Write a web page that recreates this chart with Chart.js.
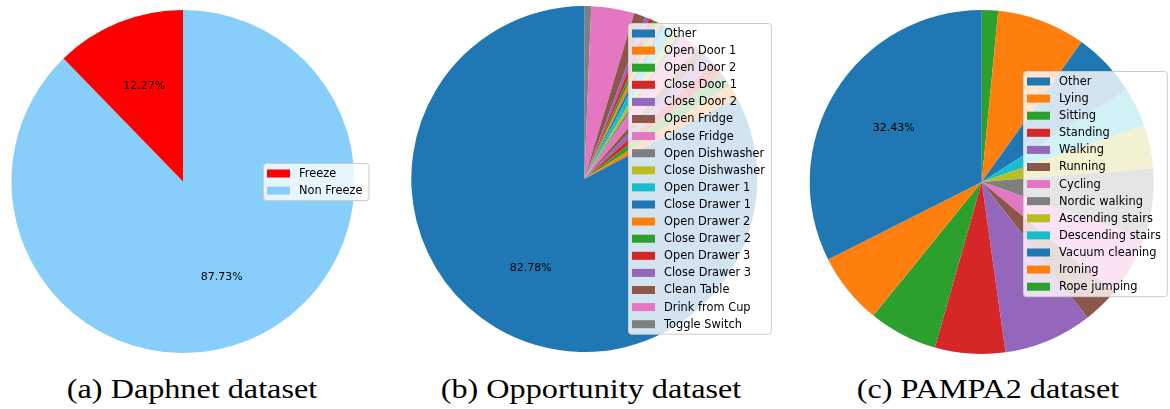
<!DOCTYPE html>
<html>
<head>
<meta charset="utf-8">
<script src="https://cdn.jsdelivr.net/npm/chart.js@4.4.1/dist/chart.umd.min.js"></script>
<style>
  html, body { margin: 0; padding: 0; background: #fff; }
  #page { position: relative; width: 1170px; height: 409px; overflow: hidden; }
  .panel { position: absolute; top: 0; width: 390px; height: 360px; }
  .caption {
    position: absolute; top: 375px; line-height: 28px;
    font-family: "Liberation Serif", serif; font-size: 28px; color: #000;
    white-space: nowrap; transform: translateX(-50%) scaleX(1.15);
  }
</style>
</head>
<body>
<div id="page">
  <div class="panel" style="left:0px"><canvas id="daphnet" width="390" height="360"></canvas></div>
  <div class="panel" style="left:390px"><canvas id="opportunity" width="390" height="360"></canvas></div>
  <div class="panel" style="left:780px"><canvas id="pampa" width="390" height="360"></canvas></div>
  <div class="caption" style="left:192px">(a) Daphnet dataset</div>
  <div class="caption" style="left:591px">(b) Opportunity dataset</div>
  <div class="caption" style="left:988px">(c) PAMPA2 dataset</div>
</div>
<script>
// class shares in percent
const daphnetLabels = ['Freeze', 'Non Freeze']
const daphnetValues = [12.27, 87.73]
const daphnetColors = ['#ff0000', '#87cefa']

const opportunityLabels = [
    'Other', 'Open Door 1', 'Open Door 2', 'Close Door 1', 'Close Door 2',
    'Open Fridge', 'Close Fridge', 'Open Dishwasher', 'Close Dishwasher',
    'Open Drawer 1', 'Close Drawer 1', 'Open Drawer 2', 'Close Drawer 2',
    'Open Drawer 3', 'Close Drawer 3', 'Clean Table', 'Drink from Cup', 'Toggle Switch'
]
const opportunityValues = [
    82.78, 1.30, 1.35, 1.20, 1.05,
    1.00, 1.80, 0.42, 0.55,
    0.83, 0.40, 0.40, 0.40,
    0.42, 0.39, 1.05, 4.02, 0.64
]

const pampaLabels = [
    'Other', 'Lying', 'Sitting', 'Standing', 'Walking', 'Running', 'Cycling',
    'Nordic walking', 'Ascending stairs', 'Descending stairs', 'Vacuum cleaning',
    'Ironing', 'Rope jumping'
]
const pampaValues = [32.43, 6.72, 6.46, 6.60, 8.33, 3.43, 5.74, 6.56, 4.09, 3.66, 6.12, 8.33, 1.53]

const tab10 = ['#1f77b4', '#ff7f0e', '#2ca02c', '#d62728', '#9467bd',
               '#8c564b', '#e377c2', '#7f7f7f', '#bcbd22', '#17becf']
const cycle = n => Array.from({ length: n }, (_, i) => tab10[i % tab10.length])

const PANEL_W = 390
const PANEL_H = 360
const FONT = '"DejaVu Sans", sans-serif'

// put the pie centre at (cx, cy) inside the panel
function centerPadding(cx, cy) {
    const dx = 2 * cx - PANEL_W
    const dy = 2 * cy - PANEL_H
    return {
        left: Math.max(dx, 0), right: Math.max(-dx, 0),
        top: Math.max(dy, 0), bottom: Math.max(-dy, 0)
    }
}

// percentage labels on big slices + a translucent legend box over the pie
function pieExtras(labels, colors, box) {
    return {
        id: 'pieExtras',
        afterDatasetsDraw(chart) {
            const ctx = chart.ctx
            const meta = chart.getDatasetMeta(0)
            const values = chart.data.datasets[0].data
            const total = values.reduce((a, b) => a + b, 0)

            ctx.save()
            ctx.font = '11px ' + FONT
            ctx.fillStyle = '#000'
            ctx.textAlign = 'center'
            ctx.textBaseline = 'middle'
            meta.data.forEach((arc, i) => {
                const pct = values[i] / total * 100
                if (pct < 10) return
                const mid = (arc.startAngle + arc.endAngle) / 2
                const r = arc.outerRadius * 0.6
                ctx.fillText(pct.toFixed(2) + '%', arc.x + Math.cos(mid) * r, arc.y + Math.sin(mid) * r)
            })

            const fs = 11.4
            const row = 17.1
            ctx.font = fs + 'px ' + FONT
            const textW = Math.max(...labels.map(l => ctx.measureText(l).width))
            const w = 4 + 23 + 9 + textW + 6
            const h = 20 + row * (labels.length - 1)
            ctx.beginPath()
            ctx.roundRect(box.x + 0.5, box.y + 0.5, w, h, 3)
            ctx.fillStyle = 'rgba(255,255,255,0.8)'
            ctx.fill()
            ctx.strokeStyle = '#cccccc'
            ctx.lineWidth = 1
            ctx.stroke()

            ctx.textAlign = 'left'
            labels.forEach((label, i) => {
                const y = box.y + 10.5 + row * i
                ctx.fillStyle = colors[i]
                ctx.fillRect(box.x + 4, y - 4, 23, 8)
                ctx.fillStyle = '#000'
                ctx.fillText(label, box.x + 36, y + 0.5)
            })
            ctx.restore()
        }
    }
}

// matplotlib draws counter-clockwise from the top, Chart.js clockwise,
// so the slices go in reversed
function drawPie(id, labels, values, colors, geom, box) {
    new Chart(document.getElementById(id), {
        type: 'pie',
        data: {
            labels: labels.slice().reverse(),
            datasets: [{
                data: values.slice().reverse(),
                backgroundColor: colors.slice().reverse(),
                borderWidth: 0
            }]
        },
        options: {
            responsive: false,
            animation: false,
            radius: geom.r,
            layout: { padding: centerPadding(geom.cx, geom.cy) },
            plugins: {
                legend: { display: false },
                tooltip: { enabled: false }
            }
        },
        plugins: [pieExtras(labels, colors, box)]
    })
}

drawPie('daphnet', daphnetLabels, daphnetValues, daphnetColors,
    { cx: 183, cy: 181.5, r: 171.5 }, { x: 263, y: 163 })
drawPie('opportunity', opportunityLabels, opportunityValues, cycle(opportunityLabels.length),
    { cx: 194.3, cy: 179, r: 173 }, { x: 238, y: 23 })
drawPie('pampa', pampaLabels, pampaValues, cycle(pampaLabels.length),
    { cx: 201.7, cy: 182, r: 172 }, { x: 243, y: 71 })
</script>
</body>
</html>
